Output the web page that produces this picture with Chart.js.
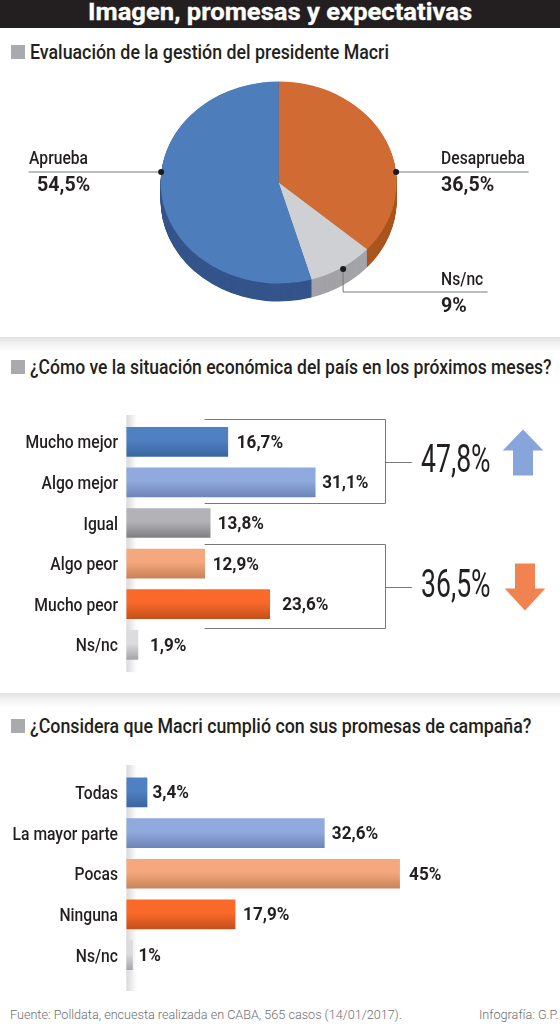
<!DOCTYPE html>
<html lang="es">
<head>
<meta charset="utf-8">
<title>Imagen, promesas y expectativas</title>
<script src="https://cdn.jsdelivr.net/npm/chart.js@4"></script>
<style>
  html, body { margin: 0; padding: 0; background: #fff; }
  #page { position: relative; width: 560px; height: 1024px; overflow: hidden; background: #fff; font-family: Roboto, sans-serif; color: #231f20; }
  #page canvas { position: absolute; left: 0; }
  .band { position: absolute; left: 0; top: 0; width: 560px; height: 28px; background: #231f20; }
  .fit { position: absolute; white-space: nowrap; transform-origin: 0 50%; }
  .title { top: 0; color: #fff; font: 700 24px/25px Roboto, sans-serif; -webkit-text-stroke: .3px #fff; }
  .rule { position: absolute; left: 0; width: 560px; height: 15px; background: linear-gradient(#e2e2e4, #f4f4f5 50%, #fff); }
  .square { position: absolute; left: 11px; width: 14px; height: 14px; background: #a9a9ae; }
  .heading { font-weight: 500; font-size: 19.5px; line-height: 24px; }
  .foot { top: 1008px; font: 300 12px/14px Roboto, sans-serif; color: #6d6e71; }
</style>
</head>
<body>
<div id="page">
  <div class="band"></div>
  <div class="fit title" data-x="88" data-w="384">Imagen, promesas y expectativas</div>
  <div class="square" style="top:45px"></div>
  <div class="fit heading" style="top:41px" data-x="29.5" data-w="358.5">Evaluación de la gestión del presidente Macri</div>
  <div class="rule" style="top:337px"></div>
  <div class="square" style="top:360px"></div>
  <div class="fit heading" style="top:356px" data-x="29.5" data-w="522">¿Cómo ve la situación económica del país en los próximos meses?</div>
  <div class="rule" style="top:693px"></div>
  <div class="square" style="top:719px"></div>
  <div class="fit heading" style="top:715px" data-x="29.5" data-w="501">¿Considera que Macri cumplió con sus promesas de campaña?</div>
  <canvas id="gestion" width="560" height="300" style="top:40px"></canvas>
  <canvas id="economia" width="560" height="270" style="top:410px"></canvas>
  <canvas id="promesas" width="560" height="236" style="top:760px"></canvas>
  <div class="fit foot" data-x="10" data-w="392">Fuente: Polldata, encuesta realizada en CABA, 565 casos (14/01/2017).</div>
  <div class="fit foot" data-x="478.5" data-w="79">Infografía: G.P.</div>
</div>
<script>
// Survey values
const gestionLabels = ['Desaprueba', 'Ns/nc', 'Aprueba'];
const gestionValues = [36.5, 9, 54.5];

const economiaLabels = ['Mucho mejor', 'Algo mejor', 'Igual', 'Algo peor', 'Mucho peor', 'Ns/nc'];
const economiaValues = [16.7, 31.1, 13.8, 12.9, 23.6, 1.9];

const promesasLabels = ['Todas', 'La mayor parte', 'Pocas', 'Ninguna', 'Ns/nc'];
const promesasValues = [3.4, 32.6, 45, 17.9, 1];

// Space between each bar's end and its printed value
const economiaGaps = [9, 7, 7.5, 8, 12.5, 12];
const promesasGaps = [5.5, 7.5, 9.5, 8, 6];

// Palette: [top of the bar gradient, bottom of the bar gradient]
const tones = {
  blue:   ['#4f80c1', '#3b66a2'],
  sky:    ['#90aadd', '#6e85b8'],
  grey:   ['#b2b2b7', '#7f7f84'],
  peach:  ['#f5a77d', '#c98358'],
  orange: ['#f8692a', '#c5501a'],
  pale:   ['#dcdcde', '#a6a6aa']
};
const economiaTones = ['blue', 'sky', 'grey', 'peach', 'orange', 'pale'];
const promesasTones = ['blue', 'sky', 'peach', 'orange', 'pale'];

const INK = '#231f20';
const FACE = 'Roboto, sans-serif';
const LINE = '#77787b';
const comma = v => String(v).replace('.', ',') + '%';

// Squeeze heading text to the column it has to fill
document.fonts.ready.then(squeezeHeadings);
function squeezeHeadings() {
  document.querySelectorAll('.fit').forEach(el => {
    el.style.left = el.dataset.x + 'px';
    el.style.transform = 'scaleX(' + el.dataset.w / el.offsetWidth + ')';
  });
}
squeezeHeadings();

// Canvas text with a horizontal squeeze, for the condensed look of the labels
function narrowText(ctx, text, x, y, font, squeeze, align) {
  ctx.save();
  ctx.translate(x, y);
  ctx.scale(squeeze, 1);
  ctx.font = font;
  ctx.textAlign = align || 'left';
  ctx.textBaseline = 'middle';
  ctx.fillText(text, 0, 0);
  ctx.restore();
}

Chart.defaults.animation = false;
Chart.defaults.responsive = false;
Chart.defaults.plugins.legend.display = false;
Chart.defaults.plugins.tooltip.enabled = false;

// ---------- Pie with a tilted, extruded look ----------
const TILT = 101 / 118;
const DEPTH = 18;
const pieTop = ['#cf6b33', '#cfd0d3', '#4e7dbb'];
const pieSide = ['#a9551d', '#a3a3a8', '#34558b'];

const tiltPlugin = {
  id: 'tilt',
  beforeDatasetDraw(chart) {
    const { ctx } = chart;
    const arcs = chart.getDatasetMeta(0).data;
    const { x, y } = arcs[0];
    ctx.save();
    ctx.translate(x, y);
    ctx.scale(1, TILT);
    ctx.translate(-x, -y);
    // Side wall: the same sectors stacked downward in darker tones
    for (let d = DEPTH; d > 0; d -= 0.5) {
      arcs.forEach((a, i) => {
        ctx.fillStyle = pieSide[i];
        ctx.beginPath();
        ctx.moveTo(a.x, a.y + d / TILT);
        ctx.arc(a.x, a.y + d / TILT, a.outerRadius, a.startAngle, a.endAngle);
        ctx.closePath();
        ctx.fill();
      });
    }
  },
  afterDatasetDraw(chart) {
    chart.ctx.restore();
  }
};

// Leader lines and captions around the pie, relative to its centre
const pieCallouts = [
  { index: 0, dot: [117.5, -11], path: [[250, -11]], textX: 162.5, textY: -23.5, valueY: 3.5 },
  { index: 1, dot: [64.5, 86], path: [[64.5, 109], [209, 109]], textX: 162.5, textY: 97.5, valueY: 124.5 },
  { index: 2, dot: [-117.5, -11], path: [[-250, -11]], textX: -249.5, textY: -23.5, valueY: 3.5, valueX: -241.5 }
];
const calloutPlugin = {
  id: 'callouts',
  afterDatasetsDraw(chart) {
    const { ctx } = chart;
    const { x, y } = chart.getDatasetMeta(0).data[0];
    ctx.save();
    pieCallouts.forEach(c => {
      ctx.strokeStyle = LINE;
      ctx.lineWidth = 1;
      ctx.beginPath();
      ctx.moveTo(x + c.dot[0], y + c.dot[1] + .5);
      c.path.forEach(p => ctx.lineTo(x + p[0], y + p[1] + .5));
      ctx.stroke();
      ctx.fillStyle = '#1a1a20';
      ctx.beginPath();
      ctx.arc(x + c.dot[0], y + c.dot[1] + .5, 3, 0, Math.PI * 2);
      ctx.fill();
      ctx.fillStyle = INK;
      narrowText(ctx, gestionLabels[c.index], x + c.textX, y + c.textY, '500 18px ' + FACE, .87);
      narrowText(ctx, comma(gestionValues[c.index]), x + (c.valueX ?? c.textX), y + c.valueY, '700 20px ' + FACE, .98);
    });
    ctx.restore();
  }
};

new Chart(document.getElementById('gestion'), {
  type: 'pie',
  data: {
    labels: gestionLabels,
    datasets: [{ data: gestionValues, backgroundColor: pieTop, borderWidth: 0, radius: 118 }]
  },
  options: { layout: { padding: { bottom: 15, right: 2.8 } } },
  plugins: [tiltPlugin, calloutPlugin]
});

// ---------- Horizontal bars ----------
const BAR_HEIGHT = 29;

function gradientFill(toneNames) {
  return ctx => {
    const chart = ctx.chart;
    const [top, bottom] = tones[toneNames[ctx.dataIndex]];
    const mid = chart.scales.y ? chart.scales.y.getPixelForValue(ctx.dataIndex) : NaN;
    if (!Number.isFinite(mid)) return top;
    const g = chart.ctx.createLinearGradient(0, mid - BAR_HEIGHT / 2, 0, mid + BAR_HEIGHT / 2);
    g.addColorStop(0, top);
    g.addColorStop(0.45, top);
    g.addColorStop(1, bottom);
    return g;
  };
}

// Pale strip behind the baseline, category names, and the value at each bar's end
const barDecor = {
  id: 'barDecor',
  beforeDatasetsDraw(chart, args, opts) {
    const { ctx, chartArea: a } = chart;
    const g = ctx.createLinearGradient(a.left, 0, a.left + 10.6, 0);
    g.addColorStop(0, '#d9d9db');
    g.addColorStop(1, '#ffffff');
    ctx.save();
    ctx.fillStyle = g;
    ctx.fillRect(a.left, a.top - opts.above, 10.6, a.bottom - a.top + opts.above + opts.below);
    ctx.restore();
  },
  afterDatasetsDraw(chart, args, opts) {
    const { ctx, scales: { y: ys }, chartArea: a } = chart;
    const values = chart.data.datasets[0].data;
    ctx.save();
    ctx.fillStyle = INK;
    chart.getDatasetMeta(0).data.forEach((bar, i) => {
      narrowText(ctx, ys.getLabelForValue(i), a.left - 8.4, ys.getPixelForValue(i) + 2, '500 18px ' + FACE, .87, 'right');
      narrowText(ctx, comma(values[i]), bar.x + opts.gaps[i], bar.y + 1.5, '700 18px ' + FACE, .95);
    });
    ctx.restore();
  }
};

// Brackets that sum up groups of answers, with the total and an arrow
const economiaGroups = [
  { from: 0, to: 1, above: 22.5, below: 21, total: '47,8%', color: '#87a5da', cx: 523, tail: 13, shoulder: -12, tip: -33, half: 20.3 },
  { from: 3, to: 4, above: 19.7, below: 23.7, total: '36,5%', color: '#f0834f', cx: 525, tail: -24, shoulder: 1, tip: 23, half: 20.3 }
];
const groupPlugin = {
  id: 'groups',
  afterDatasetsDraw(chart) {
    const { ctx, scales: { x: xs, y: ys } } = chart;
    const openX = xs.getPixelForValue(12.88);
    const sideX = Math.round(xs.getPixelForValue(42.6)) + .5;
    const tickX = xs.getPixelForValue(47);
    ctx.save();
    economiaGroups.forEach(g => {
      const top = Math.round(ys.getPixelForValue(g.from) - g.above) + .5;
      const bottom = Math.round(ys.getPixelForValue(g.to) + g.below) + .5;
      const mid = Math.round((top + bottom) / 2) + .5;
      ctx.strokeStyle = LINE;
      ctx.lineWidth = 1;
      ctx.beginPath();
      ctx.moveTo(openX, top);
      ctx.lineTo(sideX, top);
      ctx.lineTo(sideX, bottom);
      ctx.lineTo(openX, bottom);
      ctx.moveTo(sideX, mid);
      ctx.lineTo(tickX, mid);
      ctx.stroke();

      // Tall total
      ctx.fillStyle = INK;
      narrowText(ctx, g.total, 421, mid, '400 38px ' + FACE, .7);

      // Block arrow beside the total
      ctx.fillStyle = g.color;
      ctx.beginPath();
      ctx.moveTo(g.cx - 10, mid + g.tail);
      ctx.lineTo(g.cx + 10, mid + g.tail);
      ctx.lineTo(g.cx + 10, mid + g.shoulder);
      ctx.lineTo(g.cx + g.half, mid + g.shoulder);
      ctx.lineTo(g.cx, mid + g.tip);
      ctx.lineTo(g.cx - g.half, mid + g.shoulder);
      ctx.lineTo(g.cx - 10, mid + g.shoulder);
      ctx.closePath();
      ctx.fill();
    });
    ctx.restore();
  }
};

function barChart(id, labels, values, toneNames, padding, strip, extra) {
  return new Chart(document.getElementById(id), {
    type: 'bar',
    data: {
      labels,
      datasets: [{
        data: values,
        backgroundColor: gradientFill(toneNames),
        barThickness: BAR_HEIGHT,
        borderWidth: 0
      }]
    },
    options: {
      indexAxis: 'y',
      layout: { padding },
      plugins: { barDecor: strip },
      scales: {
        x: { display: false, min: 0, max: 70 },
        y: {
          afterFit(axis) { axis.width = 126.4; },
          grid: { display: false },
          border: { display: false },
          ticks: { display: false }
        }
      }
    },
    plugins: [barDecor].concat(extra)
  });
}

barChart('economia', economiaLabels, economiaValues, economiaTones,
  { top: 11.5, bottom: 14.9, right: 8.6 }, { above: 6.5, below: 7, gaps: economiaGaps }, [groupPlugin]);
barChart('promesas', promesasLabels, promesasValues, promesasTones,
  { top: 12, bottom: 20.5, right: 8.6 }, { above: 7, below: 15.5, gaps: promesasGaps }, []);
</script>
</body>
</html>
